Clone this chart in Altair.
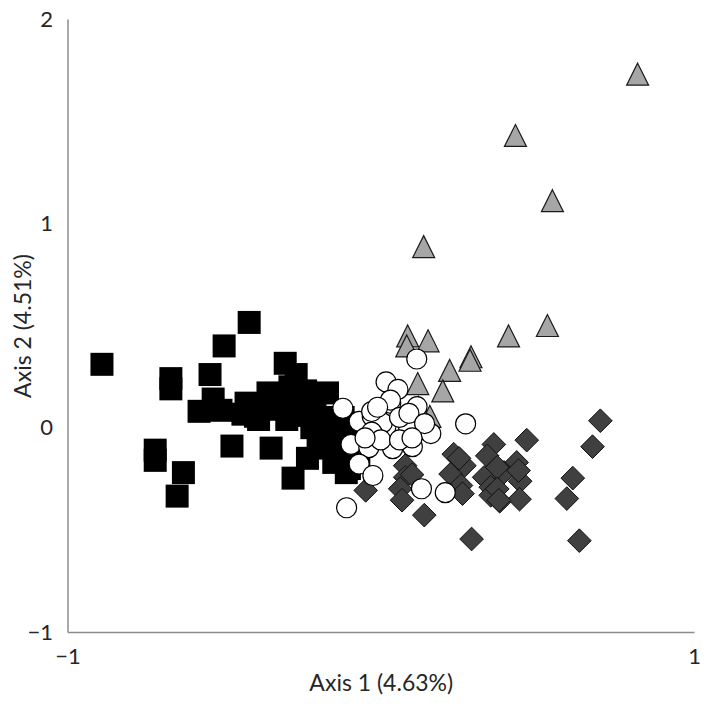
import altair as alt
import pandas as pd

# Group 1: black squares
sq_x = [-0.89, -0.42, -0.50, -0.67, -0.67, -0.545, -0.535, -0.58, -0.51, -0.44, -0.39, -0.475,
        -0.72, -0.72, -0.63, -0.65, -0.305, -0.36, -0.40, -0.30, -0.35, -0.28, -0.234, -0.15,
        -0.17, -0.27, -0.24, -0.15, -0.12, -0.10, -0.14, -0.29, -0.25, -0.21, -0.19, -0.22,
        -0.26, -0.32, -0.18, -0.20, -0.11, -0.30, -0.12, -0.07, -0.10, -0.43, -0.36]
sq_y = [0.31, 0.515, 0.40, 0.24, 0.19, 0.26, 0.14, 0.08, 0.085, 0.066, 0.04, -0.09,
        -0.11, -0.16, -0.22, -0.335, 0.315, 0.17, 0.056, 0.04, -0.10, -0.247, -0.15, -0.17,
        0.17, 0.26, 0.18, 0.01, -0.074, -0.20, -0.155, 0.20, 0.13, 0.12, 0.05, 0.0,
        0.06, 0.10, -0.06, -0.10, -0.22, 0.14, 0.05, -0.15, -0.05, 0.12, 0.09]

# Group 2: dark grey diamonds
di_x = [0.701, 0.676, 0.613, 0.594, 0.634, 0.466, 0.361, 0.340, 0.434, 0.366, 0.393, 0.445,
        0.33, 0.351, 0.351, 0.38, 0.443, 0.29, 0.233, 0.267, 0.223, 0.256, 0.261, 0.078,
        0.078, 0.062, 0.068, -0.048, 0.139, 0.372, 0.372, 0.377, 0.44, 0.10, 0.25]
di_y = [0.034, -0.093, -0.247, -0.347, -0.553, -0.061, -0.082, -0.138, -0.17, -0.203, -0.219, -0.262,
        -0.243, -0.291, -0.331, -0.36, -0.35, -0.545, -0.13, -0.186, -0.227, -0.283, -0.323, -0.186,
        -0.243, -0.299, -0.355, -0.307, -0.428, -0.194, -0.30, -0.355, -0.21, -0.23, -0.15]

# Group 3: grey triangles
tr_x = [0.82, 0.43, 0.548, 0.137, 0.532, 0.408, 0.086, 0.151, 0.083, 0.288, 0.285, 0.22,
        0.118, 0.198, 0.157, 0.12]
tr_y = [1.73, 1.43, 1.111, 0.886, 0.50, 0.449, 0.449, 0.425, 0.40, 0.347, 0.33, 0.28,
        0.216, 0.18, 0.055, 0.10]

# Group 4: white circles
ci_x = [0.115, 0.017, 0.055, 0.032, 0.116, -0.121, -0.069, -0.027, 0.005, -0.027, 0.078, 0.130,
        0.160, -0.095, -0.038, 0.038, 0.101, -0.069, -0.025, 0.130, 0.206, -0.109, 0.271, -0.029,
        0.031, -0.029, 0.088, 0.06, 0.0, 0.09, -0.05, 0.06, 0.14, -0.01, 0.10]
ci_y = [0.336, 0.224, 0.187, 0.119, 0.103, 0.095, 0.031, 0.055, 0.023, -0.026, -0.017, -0.01,
        -0.029, -0.082, -0.098, -0.103, -0.093, -0.178, -0.234, -0.299, -0.318, -0.392, 0.019, 0.079,
        0.135, -0.022, 0.008, 0.05, -0.06, 0.07, -0.05, -0.06, 0.02, 0.10, -0.05]

x_ticks = [-1, 0, 1]
y_ticks = [-1, 0, 1, 2]

FONT = "Lato"
TXT = "#262626"
AX = "#8c8c8c"

x_scale = alt.Scale(domain=[-1, 1], nice=False, zero=False)
y_scale = alt.Scale(domain=[-1, 2], nice=False, zero=False)

x_axis = alt.Axis(values=x_ticks, format="d", title="Axis 1 (4.63%)", grid=False,
                  ticks=False, tickSize=0,
                  labelPadding=24, labelBaseline="middle", labelFlush=False,
                  domainColor=AX, domainWidth=1.5,
                  labelFont=FONT, labelFontSize=22, labelColor=TXT,
                  titleFont=FONT, titleFontSize=23, titleFontWeight="normal", titleColor=TXT,
                  titleY=51, titleBaseline="middle")
y_axis = alt.Axis(values=y_ticks, format="d", title="Axis 2 (4.51%)", grid=False,
                  ticks=False, tickSize=0,
                  labelPadding=15, labelFlush=False,
                  domainColor=AX, domainWidth=1.5,
                  labelFont=FONT, labelFontSize=22, labelColor=TXT,
                  titleFont=FONT, titleFontSize=23, titleFontWeight="normal", titleColor=TXT,
                  titleX=-44, titleBaseline="middle")


def frame(xs, ys):
    return pd.DataFrame({"x": xs, "y": ys})


def enc(ch):
    return ch.encode(x=alt.X("x:Q", scale=x_scale, axis=x_axis),
                     y=alt.Y("y:Q", scale=y_scale, axis=y_axis))


squares = enc(alt.Chart(frame(sq_x, sq_y)).mark_point(
    shape="square", size=529, filled=True, fill="#000000", opacity=1, strokeWidth=0))
diamonds = enc(alt.Chart(frame(di_x, di_y)).mark_point(
    shape="diamond", size=560, filled=True, fill="#404040", stroke="#111111",
    strokeWidth=1, opacity=1))
triangles = enc(alt.Chart(frame(tr_x, tr_y)).mark_point(
    shape="M0,-1L1,1L-1,1Z", size=484, filled=True, fill="#a6a6a6", stroke="#1a1a1a",
    strokeWidth=1.2, opacity=1))
circles = enc(alt.Chart(frame(ci_x, ci_y)).mark_point(
    shape="circle", size=400, filled=True, fill="#ffffff", stroke="#000000",
    strokeWidth=1.2, opacity=1))

chart = alt.layer(squares, diamonds, triangles, circles).properties(
    width=626.5, height=613,
    padding={"left": 59.5, "top": 11, "right": 7, "bottom": 64},
    autosize=alt.AutoSizeParams(type="none"),
).configure_view(stroke=None)

chart.save("out.html", embed_options={"renderer": "svg", "actions": False})
